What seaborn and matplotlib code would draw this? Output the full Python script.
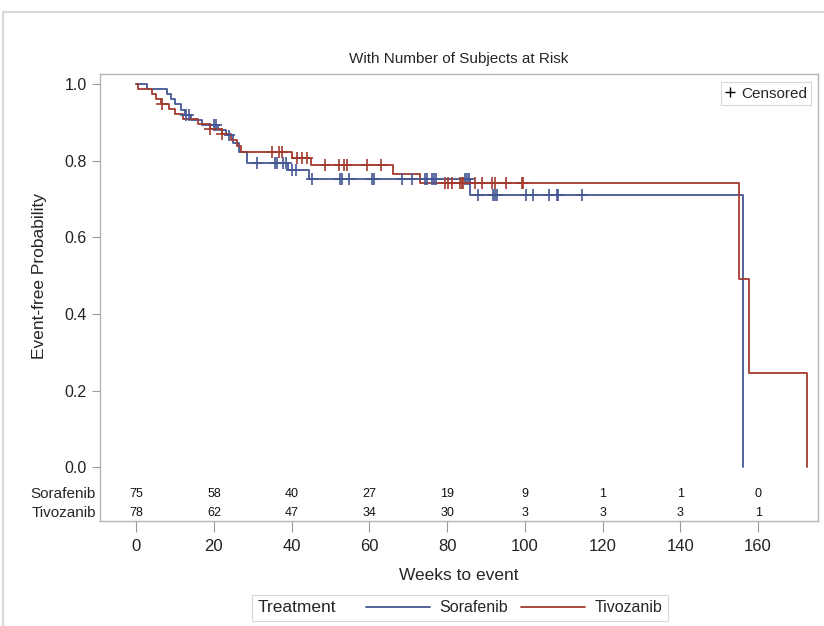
import numpy as np
import pandas as pd
import matplotlib
matplotlib.use("Agg")
import matplotlib.pyplot as plt
import seaborn as sns
from matplotlib.lines import Line2D
from matplotlib.patches import Rectangle
from matplotlib.offsetbox import HPacker
import matplotlib.transforms as mtransforms

# Kaplan-Meier step values (weeks, survival after the drop)
sor_times = [0, 2.8, 8, 9, 10, 11.5, 12.5, 14, 17, 21, 23, 25, 26.5, 28.5, 39, 44.5, 86, 156]
sor_surv = [1.0, 0.987, 0.973, 0.960, 0.947, 0.933, 0.920, 0.907, 0.893, 0.880, 0.866, 0.846,
            0.822, 0.794, 0.775, 0.752, 0.710, 0.0]
tiv_times = [0, 0.5, 4, 5, 6.5, 8.5, 10, 12, 16, 19, 22, 24.5, 26, 27, 40, 45, 66, 73, 155, 157.7, 172.6]
tiv_surv = [1.0, 0.987, 0.974, 0.961, 0.948, 0.935, 0.922, 0.909, 0.896, 0.883, 0.870, 0.854,
            0.838, 0.822, 0.807, 0.788, 0.765, 0.742, 0.491, 0.245, 0.0]

# censored times
sor_cens = [12.8, 13.5, 20, 20.6, 24, 31, 35.8, 36.1, 37.8, 38.6, 40, 41, 45.3, 52.5, 53, 54.8,
            60.7, 61.2, 68.4, 71, 74.3, 74.9, 76.1, 76.7, 77.2, 84.6, 85.2, 85.7, 88, 91.8, 92.4,
            92.9, 100.3, 102.1, 106.2, 108.3, 108.6, 114.7]
tiv_cens = [6.7, 19, 22, 35, 36.8, 37.5, 41.4, 42.7, 44, 48.6, 52.3, 53.5, 54.2, 59.4, 63,
            79.5, 80.3, 81.2, 83.3, 83.8, 84.2, 87.2, 89, 91.5, 92.3, 95.1, 99.3, 99.5]

# number at risk
risk_weeks = [0, 20, 40, 60, 80, 100, 120, 140, 160]
sor_risk = [75, 58, 40, 27, 19, 9, 1, 1, 0]
tiv_risk = [78, 62, 47, 34, 30, 3, 3, 3, 1]

arms = ["Sorafenib", "Tivozanib"]
colors = {"Sorafenib": "#445694", "Tivozanib": "#A23A2E"}


def surv_at(t, times, surv):
    i = np.searchsorted(times, t, side="right") - 1
    return surv[i]


curve = pd.concat([
    pd.DataFrame({"week": sor_times, "surv": sor_surv, "arm": "Sorafenib"}),
    pd.DataFrame({"week": tiv_times, "surv": tiv_surv, "arm": "Tivozanib"}),
])
cens = pd.concat([
    pd.DataFrame({"week": sor_cens, "surv": [surv_at(t, sor_times, sor_surv) for t in sor_cens],
                  "arm": "Sorafenib"}),
    pd.DataFrame({"week": tiv_cens, "surv": [surv_at(t, tiv_times, tiv_surv) for t in tiv_cens],
                  "arm": "Tivozanib"}),
])

sns.set_style("white")
plt.rcParams["font.family"] = ["Liberation Sans", "DejaVu Sans"]

fig = plt.figure(figsize=(8.24, 6.26), dpi=100)
ax = fig.add_axes([0.1214, 0.168, 0.8713, 0.713])

sns.lineplot(data=curve, x="week", y="surv", hue="arm", palette=colors, drawstyle="steps-post",
             estimator=None, sort=False, linewidth=1.3, legend=False, ax=ax)
sns.scatterplot(data=cens, x="week", y="surv", hue="arm", palette=colors, marker="+", s=70,
                linewidth=1.2, legend=False, ax=ax, zorder=3)

ax.set_xlim(-9.3, 175.4)
ax.set_ylim(-0.140, 1.025)
ax.set_xticks(risk_weeks)
ax.set_yticks([0.0, 0.2, 0.4, 0.6, 0.8, 1.0])
ax.set_yticklabels(["0.0", "0.2", "0.4", "0.6", "0.8", "1.0"])
ax.tick_params(axis="both", which="both", bottom=True, left=True, length=6, width=0.8,
               color="#9a9a9a", labelsize=11.5, labelcolor="#222222")
ax.tick_params(axis="x", length=8, pad=5, labelsize=12)
for sp in ax.spines.values():
    sp.set_color("#b5b5b5")
    sp.set_linewidth(1.0)

ax.set_xlabel("Weeks to event", fontsize=12.5, labelpad=10)
ax.set_ylabel("Event-free Probability", fontsize=12.5)
# label centred on the 0-1 probability range, not on the whole frame
ax.yaxis.set_label_coords(-0.074, 0.549)
ax.set_title("With Number of Subjects at Risk", fontsize=11, pad=8)

# at-risk table inside the axes
trans = mtransforms.blended_transform_factory(ax.transAxes, ax.transData)
for name, counts, yrow in [("Sorafenib", sor_risk, -0.0705), ("Tivozanib", tiv_risk, -0.120)]:
    ax.text(-0.006, yrow, name, transform=trans, ha="right", va="center", fontsize=11)
    for wk, n in zip(risk_weeks, counts):
        ax.text(wk, yrow, str(n), ha="center", va="center", fontsize=9, color="#111111")

# censored legend inside plot
cens_handle = Line2D([], [], color="black", marker="+", linestyle="none", markersize=7, mew=1.0)
leg1 = ax.legend(handles=[cens_handle], labels=["Censored"], loc="upper right",
                 bbox_to_anchor=(0.995, 0.99), handlelength=0.6, handletextpad=0.4,
                 fontsize=11, frameon=True, fancybox=False, edgecolor="#cfcfcf",
                 borderpad=0.3, borderaxespad=0.2)
leg1.get_frame().set_linewidth(0.8)

# bottom treatment legend with title on the left
line_handles = [Line2D([], [], color=colors[a], linewidth=1.3) for a in arms]
leg2 = fig.legend(handles=line_handles, labels=arms, title="Treatment", ncol=2,
                  loc="center", bbox_to_anchor=(0.558, 0.029), fontsize=11.5,
                  title_fontsize=12.5, handlelength=4.0, handletextpad=0.6, columnspacing=0.8,
                  frameon=True, fancybox=False, edgecolor="#d0d0d0", borderpad=0.35)
leg2.get_frame().set_linewidth(0.8)
box = leg2._legend_box
hbox = HPacker(pad=box.pad, sep=22, align="center", children=box.get_children())
hbox.set_figure(fig)
hbox.set_offset(leg2._findoffset)
leg2._legend_box = hbox

# outer border of the graph
fig.patches.append(Rectangle((0.004, -0.01), 1.1, 0.991, transform=fig.transFigure,
                             fill=False, edgecolor="#d8d8d8", linewidth=1.5))

fig.savefig("out.png", dpi=100)
